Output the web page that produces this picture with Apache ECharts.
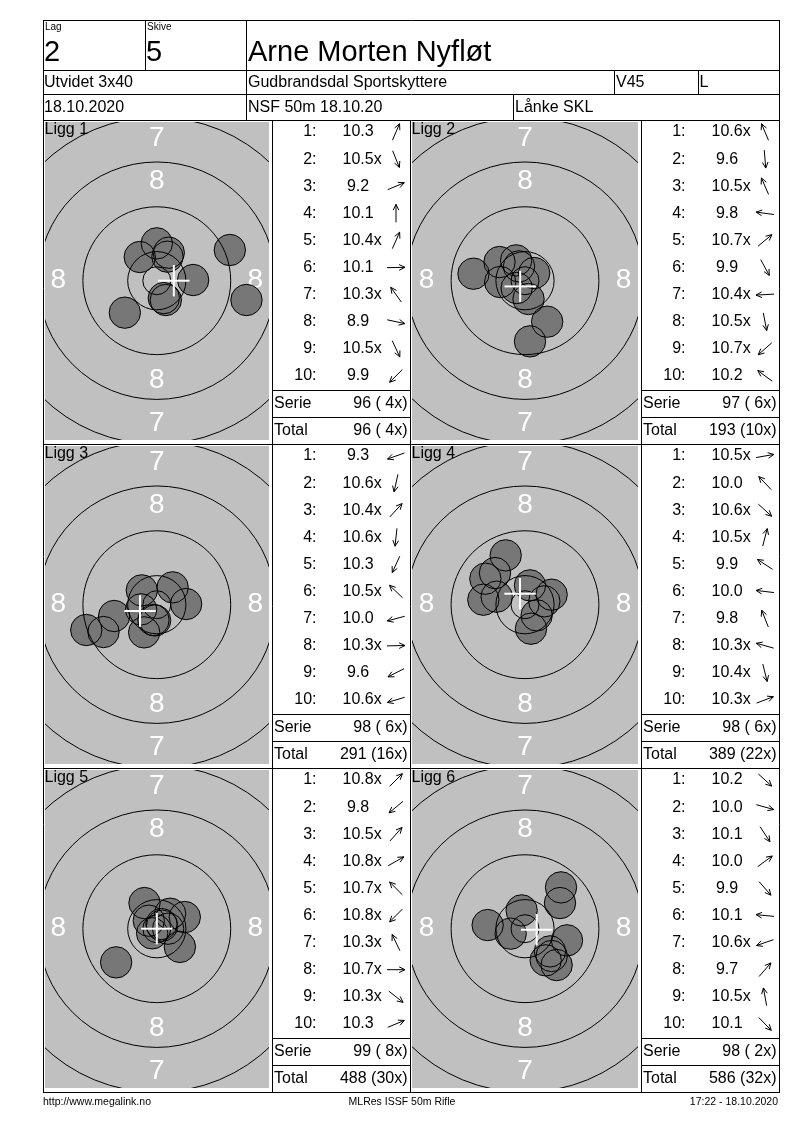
<!DOCTYPE html>
<html>
<head>
<meta charset="utf-8">
<script src="https://cdn.jsdelivr.net/npm/echarts/dist/echarts.min.js"></script>
<style>html,body{margin:0;padding:0;background:#fff}#c{width:800px;height:1130px}</style>
</head>
<body>
<div id="c"></div>
<script>
// ---------------- DATA ----------------
const lagLabel = 'Lag', skiveLabel = 'Skive';
const lagNo = '2', skiveNo = '5';
const shooterName = 'Arne Morten Nyfløt';
const headerRow2 = ['Utvidet 3x40', 'Gudbrandsdal Sportskyttere', 'V45', 'L'];
const headerRow3 = ['18.10.2020', 'NSF 50m 18.10.20', 'Lånke SKL'];
const footerTexts = ['http://www.megalink.no', 'MLRes ISSF 50m Rifle', '17:22 - 18.10.2020'];
const liggNames = ['Ligg 1', 'Ligg 2', 'Ligg 3', 'Ligg 4', 'Ligg 5', 'Ligg 6'];

// shot scores and hit positions (mm from target centre, y up)
const ligg1Scores = ['10.3', '10.5x', '9.2', '10.1', '10.4x', '10.1', '10.3x', '8.9', '10.5x', '9.9'];
const ligg1X = [2.14, 1.25, 13.04, 0.00, 1.90, 6.49, -3.04, 16.01, 1.61, -5.71];
const ligg1Y = [5.00, -3.10, 5.48, 6.67, 4.29, 0.12, 4.23, -3.45, -3.45, -5.71];

const ligg2Scores = ['10.6x', '9.6', '10.5x', '9.8', '10.7x', '9.9', '10.4x', '10.5x', '10.7x', '10.2'];
const ligg2X = [-1.07, 0.89, -1.58, -9.20, 1.64, 3.96, -4.43, 0.63, -1.49, -4.55];
const ligg2Y = [2.56, -10.83, 3.63, 1.25, 1.37, -7.32, -0.24, -3.27, -1.31, 3.33];

const ligg3Scores = ['9.3', '10.6x', '10.4x', '10.6x', '10.3', '10.5x', '10.0', '10.3x', '9.6', '10.6x'];
const ligg3X = [-12.59, -0.60, 2.83, -0.30, -2.26, -2.68, -7.62, 5.24, -9.52, -2.80];
const ligg3Y = [-4.52, -2.74, 3.10, -2.80, -4.94, 2.56, -2.02, 0.12, -4.88, -0.83];

const ligg4Scores = ['10.5x', '10.0', '10.6x', '10.5x', '9.9', '10.0', '9.8', '10.3x', '10.4x', '10.3x'];
const ligg4X = [3.45, -5.36, 2.08, 0.89, -7.08, -7.44, -3.45, -5.06, 1.07, 4.76];
const ligg4Y = [0.60, 5.65, -1.90, 3.45, 4.64, 0.89, 8.81, 1.43, -4.29, 1.79];

const ligg5Scores = ['10.8x', '9.8', '10.5x', '10.8x', '10.7x', '10.8x', '10.3x', '10.7x', '10.3x', '10.3'];
const ligg5X = [0.83, -7.26, 2.38, 0.95, -1.43, -0.83, -2.20, 2.02, 4.12, 5.00];
const ligg5Y = [0.83, -6.01, 2.68, 0.54, 1.43, -0.83, 4.58, 0.00, -3.25, 2.08];

const ligg6Scores = ['10.2', '10.0', '10.1', '10.0', '9.9', '10.1', '10.6x', '9.7', '10.5x', '10.1'];
const ligg6X = [4.46, 7.50, 3.69, 6.25, 5.65, -6.67, -2.56, 6.43, -0.60, 4.76];
const ligg6Y = [-4.05, -2.08, -5.65, 4.58, -6.49, 0.65, -0.89, 7.38, 3.27, -4.88];

// group centre (white cross), mm
const groupCentreX = [3.04, -0.86, -3.00, -0.89, 0.00, 2.08];
const groupCentreY = [0.00, -1.02, -1.13, 1.96, 0.00, -0.18];

const serieScore = [96, 97, 98, 98, 99, 98];
const serieInner = [4, 6, 6, 6, 8, 2];
const totalScore = [96, 193, 291, 389, 488, 586];
const totalInner = [4, 10, 16, 22, 30, 32];

// target geometry (mm): inner ten, 10, 9, 8, 7 ring radii; bullet radius
const ringRadii = [2.5, 5.2, 13.2, 21.2, 29.2];
const bulletRadius = 2.8;
const ringLabelText = ['7', '8', '8', '8', '8', '7'];
const ringLabelX = [0, 0, -17.6, 17.6, 0, 0];
const ringLabelY = [25.4, 17.7, 0, 0, -17.7, -25.4];

// ---------------- LAYOUT ----------------
const FONT = '"Liberation Sans", Arial, Helvetica, sans-serif';
const PX_MM = 5.6;
const panelLeft = [43, 410];
const tableLeft = [272, 641];
const tableW = 138;
const rowTop = [120, 444, 768];
const grayX = [[45, 269], [412, 638]];
const centreX = [156.8, 525.0];
const centreDy = 160.7;
const grayTopDy = 2, grayBotDy = 320;

const liggs = [
  { s: ligg1Scores, x: ligg1X, y: ligg1Y },
  { s: ligg2Scores, x: ligg2X, y: ligg2Y },
  { s: ligg3Scores, x: ligg3X, y: ligg3Y },
  { s: ligg4Scores, x: ligg4X, y: ligg4Y },
  { s: ligg5Scores, x: ligg5X, y: ligg5Y },
  { s: ligg6Scores, x: ligg6X, y: ligg6Y }
];

const grids = [], xAxes = [], yAxes = [], series = [], gfx = [];

function txt(x, y, text, size, align, color, extra) {
  return Object.assign({
    type: 'text', x: x, y: y, z: 100, silent: true,
    style: {
      text: text, font: size + 'px ' + FONT, fill: color || '#000',
      align: align || 'left', verticalAlign: 'middle',
      textAlign: align || 'left', textVerticalAlign: 'middle'
    }
  }, extra || {});
}
function line(x1, y1, x2, y2, color, w) {
  return { type: 'line', z: 100, silent: true, shape: { x1: x1, y1: y1, x2: x2, y2: y2 },
    style: { stroke: color || '#000', lineWidth: w || 1 } };
}
function textStyle(text, size, color) {
  return { text: text, font: size + 'px ' + FONT, fill: color, align: 'center', verticalAlign: 'middle',
    textAlign: 'center', textVerticalAlign: 'middle' };
}

liggs.forEach(function (L, k) {
  const col = k % 2, row = Math.floor(k / 2);
  const cx = centreX[col], cy = rowTop[row] + centreDy;
  const gl = grayX[col][0], gr = grayX[col][1];
  const gt = rowTop[row] + grayTopDy, gb = rowTop[row] + grayBotDy;
  grids.push({ left: gl, top: gt, width: gr - gl, height: gb - gt, show: true,
    backgroundColor: '#c0c0c0', borderWidth: 0, containLabel: false });
  xAxes.push({ type: 'value', gridIndex: k, min: (gl - cx) / PX_MM, max: (gr - cx) / PX_MM, show: false,
    splitLine: { show: false } });
  yAxes.push({ type: 'value', gridIndex: k, min: (cy - gb) / PX_MM, max: (cy - gt) / PX_MM, show: false,
    splitLine: { show: false } });

  const base = { type: 'custom', xAxisIndex: k, yAxisIndex: k, clip: true, silent: true, animation: false };
  // ring numbers
  series.push(Object.assign({}, base, {
    z: 2,
    data: ringLabelX.map(function (v, i) { return [v, ringLabelY[i]]; }),
    renderItem: function (p, api) {
      const c = api.coord([api.value(0), api.value(1)]);
      return { type: 'text', x: c[0], y: c[1], style: textStyle(ringLabelText[p.dataIndex], 28, '#ffffff') };
    }
  }));
  // hole fills
  const holes = L.x.map(function (v, i) { return [v, L.y[i]]; });
  series.push(Object.assign({}, base, {
    z: 3, data: holes,
    renderItem: function (p, api) {
      const c = api.coord([api.value(0), api.value(1)]);
      const r = api.size([bulletRadius, 0])[0];
      return { type: 'circle', shape: { cx: c[0], cy: c[1], r: r }, style: { fill: '#777777', stroke: null } };
    }
  }));
  // hole outlines
  series.push(Object.assign({}, base, {
    z: 4, data: holes,
    renderItem: function (p, api) {
      const c = api.coord([api.value(0), api.value(1)]);
      const r = api.size([bulletRadius, 0])[0];
      return { type: 'circle', shape: { cx: c[0], cy: c[1], r: r }, style: { fill: 'none', stroke: '#000', lineWidth: 1 } };
    }
  }));
  // rings
  series.push(Object.assign({}, base, {
    z: 5, data: ringRadii.map(function (r) { return [0, 0, r]; }),
    renderItem: function (p, api) {
      const c = api.coord([api.value(0), api.value(1)]);
      const r = api.size([api.value(2), 0])[0];
      return { type: 'circle', shape: { cx: c[0], cy: c[1], r: r }, style: { fill: 'none', stroke: '#000', lineWidth: 1 } };
    }
  }));
  // group centre cross
  series.push(Object.assign({}, base, {
    z: 6, data: [[groupCentreX[k], groupCentreY[k]]],
    renderItem: function (p, api) {
      const c = api.coord([api.value(0), api.value(1)]);
      const h = api.size([bulletRadius, 0])[0];
      return { type: 'group', children: [
        { type: 'line', shape: { x1: c[0] - h, y1: c[1], x2: c[0] + h, y2: c[1] }, style: { stroke: '#fff', lineWidth: 2 } },
        { type: 'line', shape: { x1: c[0], y1: c[1] - h, x2: c[0], y2: c[1] + h }, style: { stroke: '#fff', lineWidth: 2 } }
      ] };
    }
  }));

  // panel label
  gfx.push(txt(panelLeft[col] + 1.5, rowTop[row] + 9.5, liggNames[k], 16, 'left'));

  // score table
  const tl = tableLeft[col], top = rowTop[row];
  for (let i = 0; i < L.s.length; i++) {
    const y = top + 12 + 27.1 * i;
    const sc = L.s[i];
    const pad = parseFloat(sc) < 10 ? ' ' : '';
    gfx.push(txt(tl + 44.5, y, (i + 1) + ':', 16, 'right'));
    gfx.push(txt(tl + 70.5, y, pad + sc, 16, 'left'));
    // direction arrow from target centre to the hit
    const ang = Math.atan2(L.y[i], L.x[i]);
    const dx = Math.cos(ang), dy = -Math.sin(ang);
    const ax = tl + 124, ay = y, len = 18;
    const x1 = ax - dx * len / 2, y1 = ay - dy * len / 2, x2 = ax + dx * len / 2, y2 = ay + dy * len / 2;
    const back = Math.atan2(-dy, -dx), hl = 6.5, ha = 0.45;
    gfx.push({ type: 'polyline', z: 100, silent: true, shape: { points: [[x1, y1], [x2, y2]] }, style: { stroke: '#000', lineWidth: 1, fill: null } });
    gfx.push({ type: 'polyline', z: 100, silent: true,
      shape: { points: [[x2 + hl * Math.cos(back + ha), y2 + hl * Math.sin(back + ha)], [x2, y2],
                        [x2 + hl * Math.cos(back - ha), y2 + hl * Math.sin(back - ha)]] },
      style: { stroke: '#000', lineWidth: 1, fill: null } });
  }
  const p2 = function (n) { return n < 10 ? ' ' + n : '' + n; };
  gfx.push(line(tl, top + 270.5, tl + tableW, top + 270.5));
  gfx.push(line(tl, top + 297.5, tl + tableW, top + 297.5));
  gfx.push(txt(tl + 2, top + 283.5, 'Serie', 16, 'left'));
  gfx.push(txt(tl + 135.5, top + 283.5, serieScore[k] + ' (' + p2(serieInner[k]) + 'x)', 16, 'right'));
  gfx.push(txt(tl + 2, top + 310.5, 'Total', 16, 'left'));
  gfx.push(txt(tl + 135.5, top + 310.5, totalScore[k] + ' (' + p2(totalInner[k]) + 'x)', 16, 'right'));
});

// frame lines
[[20, 43, 779], [70, 43, 779], [94, 43, 779], [120, 43, 779], [444, 43, 779], [768, 43, 779], [1092, 43, 779]]
  .forEach(function (h) { gfx.push(line(h[1], h[0] + 0.5, h[2] + 1, h[0] + 0.5)); });
[[43, 20, 1092], [779, 20, 1092], [145, 20, 70], [246, 20, 120], [614, 70, 94], [698, 70, 94], [513, 94, 120],
 [272, 120, 1092], [410, 120, 1092], [641, 120, 1092]]
  .forEach(function (v) { gfx.push(line(v[0] + 0.5, v[1], v[0] + 0.5, v[2] + 1)); });

// header texts
gfx.push(txt(45, 27, lagLabel, 10, 'left'));
gfx.push(txt(147, 27, skiveLabel, 10, 'left'));
gfx.push(txt(44, 53, lagNo, 29, 'left'));
gfx.push(txt(146, 53, skiveNo, 29, 'left'));
gfx.push(txt(248, 53, shooterName, 29, 'left'));
[44, 248, 616, 699.5].forEach(function (x, i) { gfx.push(txt(x, 83, headerRow2[i], 16, 'left')); });
[44, 248, 515].forEach(function (x, i) { gfx.push(txt(x, 107.5, headerRow3[i], 16, 'left')); });

// footer
gfx.push(txt(43, 1102, footerTexts[0], 10.5, 'left'));
gfx.push(txt(402, 1102, footerTexts[1], 10.5, 'center'));
gfx.push(txt(778, 1102, footerTexts[2], 10.5, 'right'));

const chart = echarts.init(document.getElementById('c'), null, { renderer: 'canvas', width: 800, height: 1130 });
chart.setOption({
  backgroundColor: '#ffffff',
  animation: false,
  grid: grids,
  xAxis: xAxes,
  yAxis: yAxes,
  series: series,
  graphic: { elements: gfx }
});
</script>
</body>
</html>
